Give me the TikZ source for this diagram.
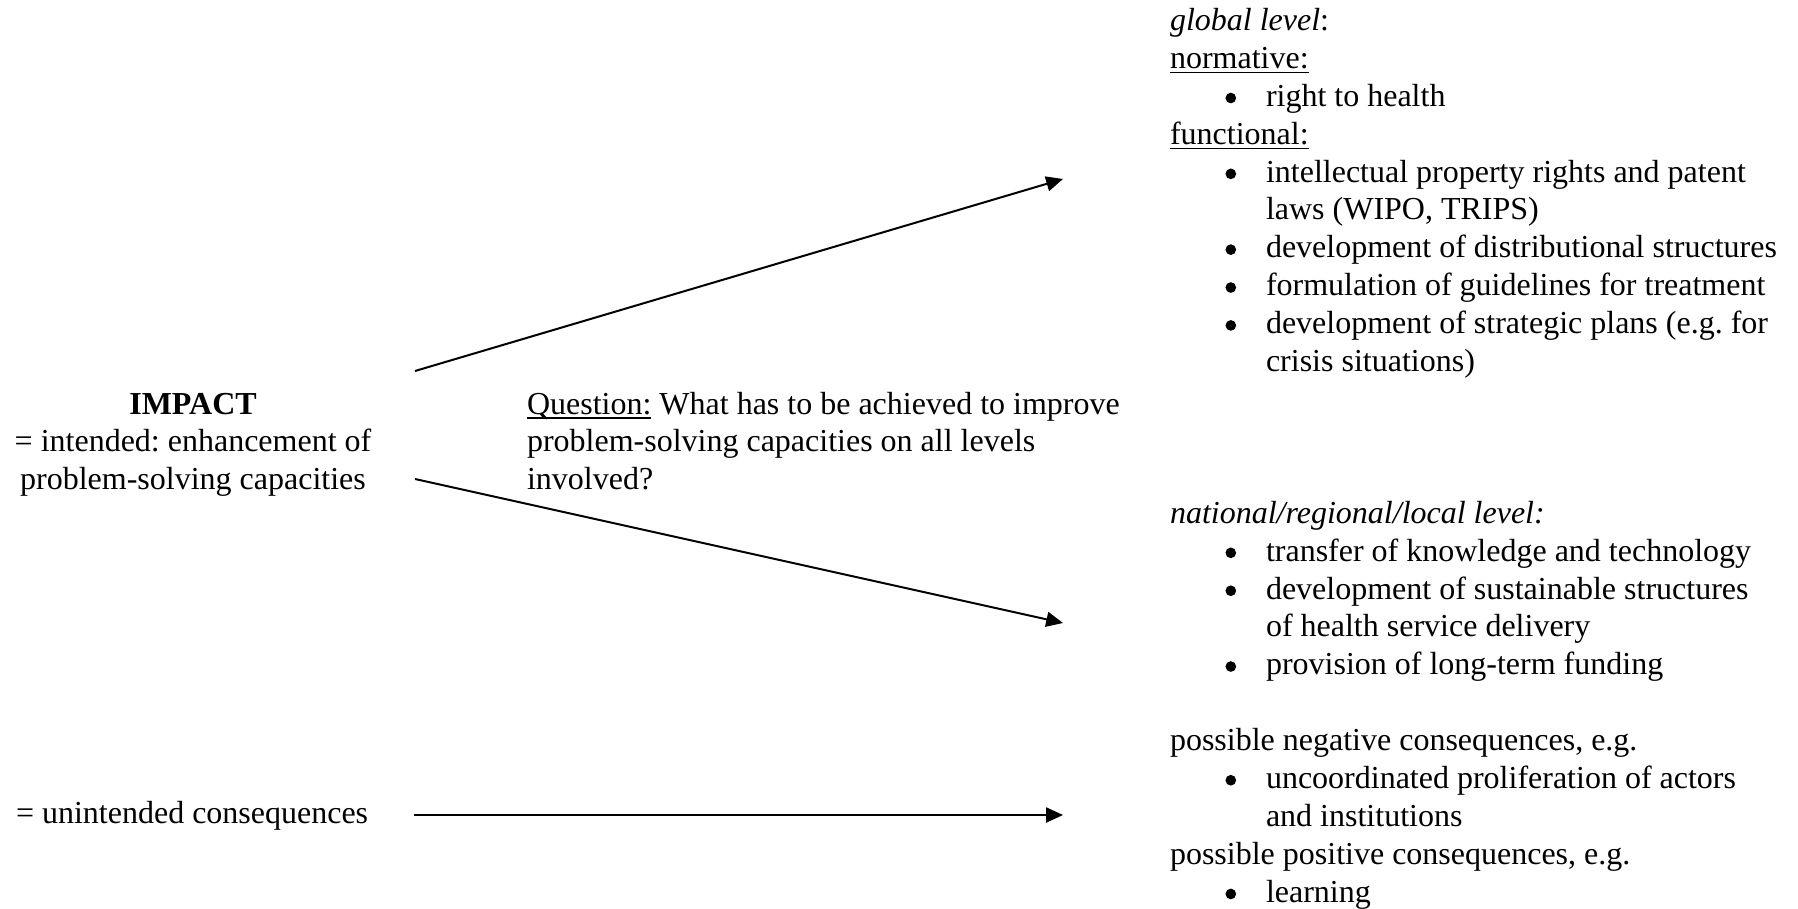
\documentclass[tikz,border=0pt]{standalone}
\usepackage{fontspec}
\setmainfont{Liberation Serif}
\usetikzlibrary{arrows.meta}
\frenchspacing
\newlength\LS \setlength\LS{14.2125pt}
\newcommand\Ln[1]{\hbox{#1}}
\newcommand\Dot{\tikz[baseline=0pt]\fill (2pt,3.1pt) circle[radius=2pt];}
\newcommand\Bu[1]{\hbox{\hspace*{20.8pt}\Dot\hspace*{11.2pt}#1}}
\newcommand\Co[1]{\hbox{\hspace*{36pt}#1}}
\newcommand\Cn[1]{\hbox to 0pt{\hss#1\hss}}
\newcommand\myul[1]{\setbox0=\hbox{#1}\rlap{\rule[-1.9pt]{\wd0}{0.6pt}}\box0\relax}
\newcommand\Blk[1]{\vtop{\baselineskip=\LS\lineskiplimit=-100pt #1}}
\tikzset{
  txt/.style={inner sep=0pt, outer sep=0pt, anchor=base west, font=\fontsize{12pt}{14.2125pt}\selectfont},
  arr/.style={line width=0.75pt, -{Triangle[length=6.3pt,width=5.6pt]}}
}
\begin{document}
\begin{tikzpicture}[x=0.375pt,y=-0.375pt]
\useasboundingbox (0,0) rectangle (1798,909);
% left
\node[txt, anchor=base] (impact) at (193,414) {\Blk{\Cn{\textbf{IMPACT}}\Cn{= intended: enhancement of}\Cn{problem-solving capacities}}};
\node[txt] (unint) at (16,823) {= unintended consequences};
% middle
\node[txt] (question) at (527,414) {\Blk{\Ln{\myul{Question:} What has to be achieved to improve}\Ln{problem-solving capacities on all levels}\Ln{involved?}}};
% right
\node[txt] (global) at (1170,30.5) {\Blk{%
\Ln{\textit{global level}:}%
\Ln{\myul{normative:}}%
\Bu{right to health}%
\Ln{\myul{functional:}}%
\Bu{intellectual property rights and patent}%
\Co{laws (WIPO, TRIPS)}%
\Bu{development of distributional structures}%
\Bu{formulation of guidelines for treatment}%
\Bu{development of strategic plans (e.g. for}%
\Co{crisis situations)}}};
\node[txt] (national) at (1170,523.2) {\Blk{%
\Ln{\textit{national/regional/local level:}}%
\Bu{transfer of knowledge and technology}%
\Bu{development of sustainable structures}%
\Co{of health service delivery}%
\Bu{provision of long-term funding}}};
\node[txt] (conseq) at (1170,750.6) {\Blk{%
\Ln{possible negative consequences, e.g.}%
\Bu{uncoordinated proliferation of actors}%
\Co{and institutions}%
\Ln{possible positive consequences, e.g.}%
\Bu{learning}}};
% arrows
\coordinate (a1s) at (415,371);
\coordinate (a1e) at (1063,179);
\coordinate (a2s) at (415,479);
\coordinate (a2e) at (1063,623);
\coordinate (a3s) at (414,815);
\coordinate (a3e) at (1063,815);
\draw[arr] (a1s) -- (a1e);
\draw[arr] (a2s) -- (a2e);
\draw[arr] (a3s) -- (a3e);
\end{tikzpicture}
\end{document}
